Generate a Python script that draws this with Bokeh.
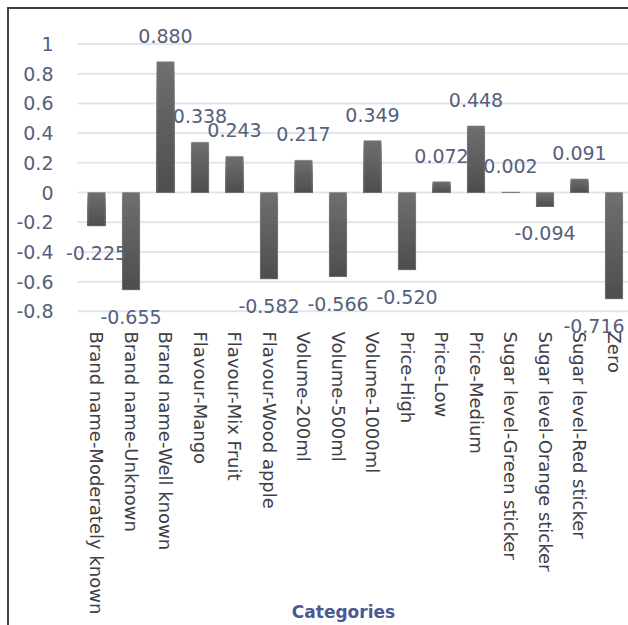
import numpy as np
from bokeh.plotting import figure
from bokeh.core.properties import value
from bokeh.models import Range1d, FixedTicker, CustomJSTickFormatter, ColumnDataSource, LabelSet
from bokeh.embed import file_html
from bokeh.resources import INLINE

# Part-worth utilities per attribute level
categories = [
    "Brand name-Moderately known", "Brand name-Unknown", "Brand name-Well known",
    "Flavour-Mango", "Flavour-Mix Fruit", "Flavour-Wood apple",
    "Volume-200ml", "Volume-500ml", "Volume-1000ml",
    "Price-High", "Price-Low", "Price-Medium",
    "Sugar level-Green sticker", "Sugar level-Orange sticker", "Sugar level-Red sticker",
    "Zero",
]
utilities = [-0.225, -0.655, 0.880, 0.338, 0.243, -0.582, 0.217, -0.566,
             0.349, -0.520, 0.072, 0.448, 0.002, -0.094, 0.091, -0.716]
y_ticks = [-0.8, -0.6, -0.4, -0.2, 0, 0.2, 0.4, 0.6, 0.8, 1]
x_title = "Categories"

NUM_COLOR = "#56607a"
CAT_COLOR = "#3e3e46"
FONT = "DejaVu Sans"
FRAME_LINE = "#404040"

X_START, X_END = -1.102, 15.42
GRID_START = -0.55          # gridlines begin just left of the first category band

p = figure(width=628, height=625,
           x_range=Range1d(X_START, X_END), y_range=Range1d(-0.956, 1.212),
           output_backend="svg", toolbar_location=None,
           min_border_left=58, min_border_right=0, min_border_top=12, min_border_bottom=291)
# chart-area frame line on the left and top edges, painted behind the canvas
p.border_fill_color = None
p.styles = {"background": (
    f"linear-gradient({FRAME_LINE},{FRAME_LINE}) 7px 7px / 2px 100% no-repeat, "
    f"linear-gradient({FRAME_LINE},{FRAME_LINE}) 7px 7px / 100% 2px no-repeat, white")}
p.outline_line_color = None
p.background_fill_color = "white"
p.xgrid.visible = False
p.ygrid.visible = False

# horizontal gridlines at the value ticks
p.segment(x0=GRID_START, x1=X_END + 1, y0=y_ticks, y1=y_ticks,
          line_color="#e1e6ee", line_width=2)

# bars shaded from lighter (upper edge) to darker (lower edge):
# nested rectangles anchored at each bar's lower edge, tallest first
n_steps = 30
light = np.array([0x70, 0x70, 0x70])
dark = np.array([0x4e, 0x4e, 0x4e])
xs, bots, tops, cols = [], [], [], []
for i, v in enumerate(utilities):
    lo, hi = min(v, 0.0), max(v, 0.0)
    for k in range(n_steps):
        frac = (k + 0.5) / n_steps
        c = (light + (dark - light) * frac).astype(int)
        xs.append(i)
        bots.append(lo)
        tops.append(hi - (hi - lo) * k / n_steps)
        cols.append("#%02x%02x%02x" % tuple(c))
p.vbar(x=xs, bottom=bots, top=tops, width=0.5, fill_color=cols, line_color=None)
p.vbar(x=list(range(len(utilities))), bottom=0, top=utilities, width=0.5,
       fill_color=None, line_color="#858585", line_alpha=0.6, line_width=1)

# y axis
p.yaxis.ticker = FixedTicker(ticks=y_ticks)
p.yaxis.formatter = CustomJSTickFormatter(code="return String(Number(tick.toFixed(1)));")
p.yaxis.axis_line_color = None
p.yaxis.major_tick_line_color = None
p.yaxis.minor_tick_line_color = None
p.yaxis.major_label_standoff = -1
p.yaxis.major_label_text_font = FONT
p.yaxis.major_label_text_font_size = "19px"
p.yaxis.major_label_text_color = NUM_COLOR

# x axis with category names
p.xaxis.ticker = FixedTicker(ticks=list(range(len(categories))))
p.xaxis.major_label_overrides = {i: c for i, c in enumerate(categories)}
p.xaxis.major_label_orientation = -np.pi / 2
p.xaxis.axis_line_color = None
p.xaxis.major_tick_line_color = None
p.xaxis.minor_tick_line_color = None
p.xaxis.major_label_standoff = -9
p.xaxis.major_label_text_font = FONT
p.xaxis.major_label_text_font_size = "18px"
p.xaxis.major_label_text_color = CAT_COLOR
p.xaxis.axis_label = x_title
p.xaxis.axis_label_standoff = -15
p.xaxis.axis_label_text_font = FONT
p.xaxis.axis_label_text_font_style = "bold"
p.xaxis.axis_label_text_font_size = "17px"
p.xaxis.axis_label_text_color = "#4b5894"

# value labels above positive bars, below negative ones
labels = [f"{v:.3f}" for v in utilities]
last = len(utilities) - 1
pos = dict(x=[], y=[], text=[], dx=[])
neg = dict(x=[], y=[], text=[], dx=[])
for i, (v, t) in enumerate(zip(utilities, labels)):
    d = pos if v >= 0 else neg
    d["x"].append(i)
    d["y"].append(v)
    d["text"].append(t)
    d["dx"].append(-20 if i == last else 0)

for src, off, base in ((pos, 19, "bottom"), (neg, -20, "top")):
    p.add_layout(LabelSet(x="x", y="y", text="text", source=ColumnDataSource(src),
                          x_offset="dx", y_offset=off, text_align="center",
                          text_baseline=base, text_font=value(FONT),
                          text_font_size="19px", text_color=NUM_COLOR))

open("out.html", "w").write(file_html(p, INLINE))
